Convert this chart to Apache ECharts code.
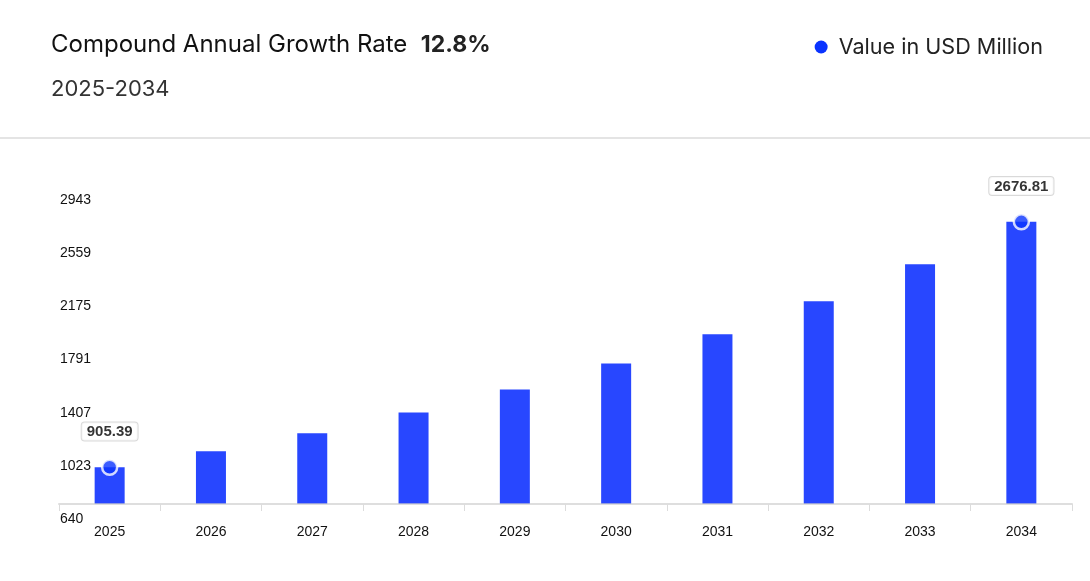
<!DOCTYPE html>
<html>
<head>
<meta charset="utf-8">
<script src="https://cdn.jsdelivr.net/npm/echarts@6/dist/echarts.min.js"></script>
<style>
html,body{margin:0;padding:0;background:#fff;}
#chart{width:1090px;height:581px;}
</style>
</head>
<body>
<div id="chart"></div>
<script>
const categories = ['2025','2026','2027','2028','2029','2030','2031','2032','2033','2034'];
const values = [905.39, 1021, 1151, 1300, 1466, 1654, 1866, 2104, 2371, 2676.81];
const labeledIdx = [0, 9];
const yTickLabels = ['640','1023','1407','1791','2175','2559','2943'];
const cagrText = '12.8%';
const periodText = '2025-2034';
const seriesName = 'Value in USD Million';

const yMin = Number(yTickLabels[0]);
const yMax = Number(yTickLabels[yTickLabels.length - 1]);
const yInterval = (yMax - yMin) / (yTickLabels.length - 1);

const dotData = values.map((v, i) => labeledIdx.includes(i) ? v : '-');

const chart = echarts.init(document.getElementById('chart'));
chart.setOption({
  animation: false,
  title: [
    {
      text: 'Compound Annual Growth Rate  {b|' + cagrText + '}',
      left: 46, top: 28,
      textStyle: {
        fontFamily: 'Inter', fontSize: 24, fontWeight: 'normal', color: '#111',
        rich: { b: { fontFamily: 'Inter', fontSize: 23, fontWeight: 'bold', color: '#222' } }
      }
    },
    {
      text: periodText,
      left: 46, top: 73,
      textStyle: { fontFamily: 'Inter', fontSize: 22, fontWeight: 'normal', color: '#333' }
    }
  ],
  legend: {
    right: 42, top: 31,
    icon: 'circle', itemWidth: 13, itemHeight: 13, itemGap: 10,
    textStyle: { fontFamily: 'Inter', fontSize: 21.6, color: '#222', padding: [0, 0, 0, 6] },
    data: [{ name: seriesName, itemStyle: { color: '#0a33ff' } }]
  },
  graphic: [
    { type: 'rect', shape: { x: 0, y: 137, width: 1090, height: 2 }, style: { fill: '#e4e4e4' }, silent: true }
  ],
  grid: { left: 59, right: 18, top: 185, bottom: 77 },
  xAxis: {
    type: 'category',
    data: categories,
    z: 5,
    axisLine: { lineStyle: { color: 'rgba(205,205,205,0.65)', width: 2 } },
    axisTick: { show: true, length: 7, lineStyle: { color: '#dcdcdc', width: 1 } },
    axisLabel: { fontFamily: 'Liberation Sans', fontSize: 14, color: '#111', margin: 21 }
  },
  yAxis: {
    type: 'value',
    min: yMin, max: yMax, interval: yInterval,
    splitLine: { show: false },
    axisLine: { show: false },
    axisTick: { show: false },
    axisLabel: {
      inside: true, margin: 1,
      fontFamily: 'Liberation Sans', fontSize: 14, color: '#111',
      verticalAlign: 'top', padding: [8, 0, 0, 0],
      formatter: (v) => {
        const i = Math.round((v - yMin) / yInterval);
        return yTickLabels[i] !== undefined ? yTickLabels[i] : '';
      }
    }
  },
  series: [
    {
      name: seriesName,
      type: 'bar',
      data: values,
      barWidth: 30,
      itemStyle: { color: '#2847ff' },
      z: 2
    },
    {
      name: 'dots',
      type: 'scatter',
      data: dotData,
      symbol: 'circle',
      symbolSize: 15,
      z: 6,
      itemStyle: { color: '#0a33ff', borderColor: '#fff', borderWidth: 2.5 },
      label: {
        show: true, position: 'top', distance: 18,
        fontFamily: 'Liberation Sans', fontSize: 15, fontWeight: 'bold', color: '#000',
        backgroundColor: '#fff', borderColor: '#cfcfcf', borderWidth: 1, borderRadius: 3,
        padding: [2, 5, 1, 5],
        formatter: (p) => values[p.dataIndex].toFixed(2)
      }
    }
  ]
});
</script>
</body>
</html>
